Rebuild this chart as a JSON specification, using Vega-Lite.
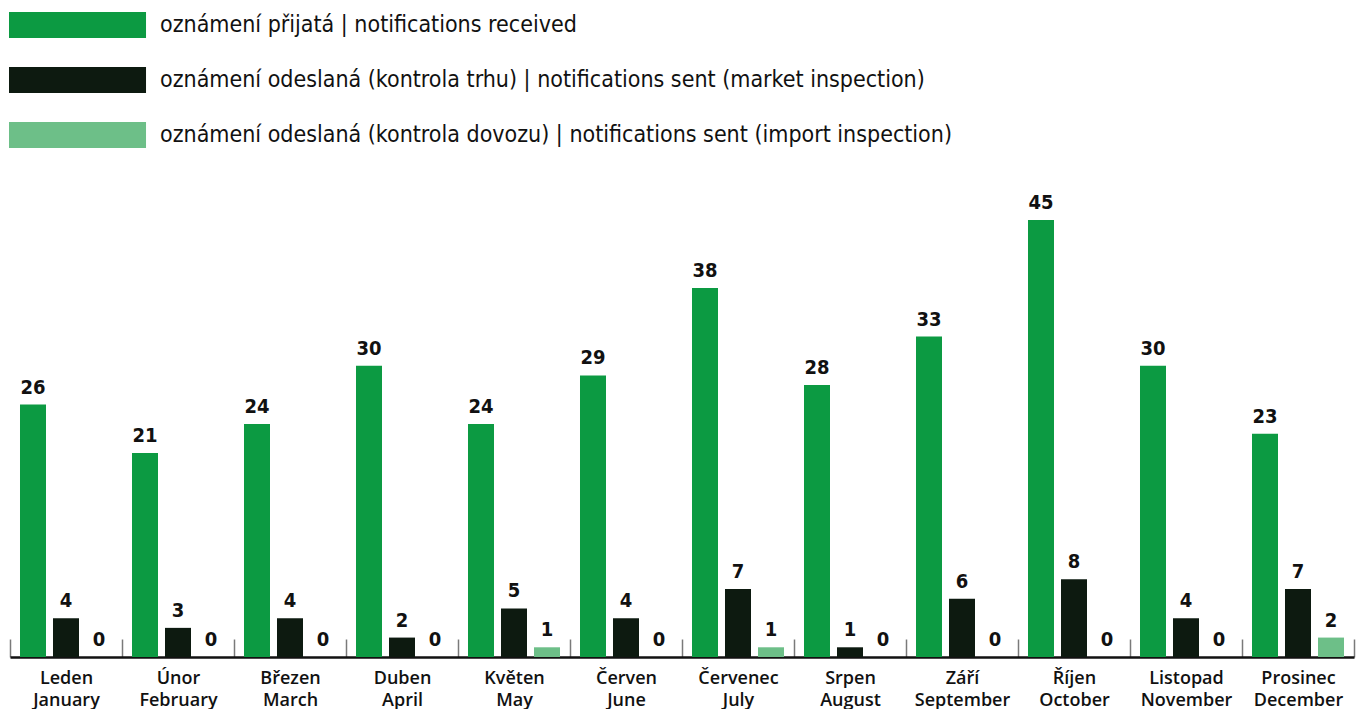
{
  "$schema": "https://vega.github.io/schema/vega-lite/v6.json",
  "width": 1344,
  "height": 437,
  "autosize": {"type": "none"},
  "padding": {"left": 10, "top": 220, "right": 2, "bottom": 52},
  "config": {"view": {"stroke": null}, "font": "Roboto"},
  "data": {
    "values": [
      {"month": "Leden|January", "series": "oznámení přijatá | notifications received", "value": 26},
      {"month": "Leden|January", "series": "oznámení odeslaná (kontrola trhu) | notifications sent (market inspection)", "value": 4},
      {"month": "Leden|January", "series": "oznámení odeslaná (kontrola dovozu) | notifications sent (import inspection)", "value": 0},
      {"month": "Únor|February", "series": "oznámení přijatá | notifications received", "value": 21},
      {"month": "Únor|February", "series": "oznámení odeslaná (kontrola trhu) | notifications sent (market inspection)", "value": 3},
      {"month": "Únor|February", "series": "oznámení odeslaná (kontrola dovozu) | notifications sent (import inspection)", "value": 0},
      {"month": "Březen|March", "series": "oznámení přijatá | notifications received", "value": 24},
      {"month": "Březen|March", "series": "oznámení odeslaná (kontrola trhu) | notifications sent (market inspection)", "value": 4},
      {"month": "Březen|March", "series": "oznámení odeslaná (kontrola dovozu) | notifications sent (import inspection)", "value": 0},
      {"month": "Duben|April", "series": "oznámení přijatá | notifications received", "value": 30},
      {"month": "Duben|April", "series": "oznámení odeslaná (kontrola trhu) | notifications sent (market inspection)", "value": 2},
      {"month": "Duben|April", "series": "oznámení odeslaná (kontrola dovozu) | notifications sent (import inspection)", "value": 0},
      {"month": "Květen|May", "series": "oznámení přijatá | notifications received", "value": 24},
      {"month": "Květen|May", "series": "oznámení odeslaná (kontrola trhu) | notifications sent (market inspection)", "value": 5},
      {"month": "Květen|May", "series": "oznámení odeslaná (kontrola dovozu) | notifications sent (import inspection)", "value": 1},
      {"month": "Červen|June", "series": "oznámení přijatá | notifications received", "value": 29},
      {"month": "Červen|June", "series": "oznámení odeslaná (kontrola trhu) | notifications sent (market inspection)", "value": 4},
      {"month": "Červen|June", "series": "oznámení odeslaná (kontrola dovozu) | notifications sent (import inspection)", "value": 0},
      {"month": "Červenec|July", "series": "oznámení přijatá | notifications received", "value": 38},
      {"month": "Červenec|July", "series": "oznámení odeslaná (kontrola trhu) | notifications sent (market inspection)", "value": 7},
      {"month": "Červenec|July", "series": "oznámení odeslaná (kontrola dovozu) | notifications sent (import inspection)", "value": 1},
      {"month": "Srpen|August", "series": "oznámení přijatá | notifications received", "value": 28},
      {"month": "Srpen|August", "series": "oznámení odeslaná (kontrola trhu) | notifications sent (market inspection)", "value": 1},
      {"month": "Srpen|August", "series": "oznámení odeslaná (kontrola dovozu) | notifications sent (import inspection)", "value": 0},
      {"month": "Září|September", "series": "oznámení přijatá | notifications received", "value": 33},
      {"month": "Září|September", "series": "oznámení odeslaná (kontrola trhu) | notifications sent (market inspection)", "value": 6},
      {"month": "Září|September", "series": "oznámení odeslaná (kontrola dovozu) | notifications sent (import inspection)", "value": 0},
      {"month": "Říjen|October", "series": "oznámení přijatá | notifications received", "value": 45},
      {"month": "Říjen|October", "series": "oznámení odeslaná (kontrola trhu) | notifications sent (market inspection)", "value": 8},
      {"month": "Říjen|October", "series": "oznámení odeslaná (kontrola dovozu) | notifications sent (import inspection)", "value": 0},
      {"month": "Listopad|November", "series": "oznámení přijatá | notifications received", "value": 30},
      {"month": "Listopad|November", "series": "oznámení odeslaná (kontrola trhu) | notifications sent (market inspection)", "value": 4},
      {"month": "Listopad|November", "series": "oznámení odeslaná (kontrola dovozu) | notifications sent (import inspection)", "value": 0},
      {"month": "Prosinec|December", "series": "oznámení přijatá | notifications received", "value": 23},
      {"month": "Prosinec|December", "series": "oznámení odeslaná (kontrola trhu) | notifications sent (market inspection)", "value": 7},
      {"month": "Prosinec|December", "series": "oznámení odeslaná (kontrola dovozu) | notifications sent (import inspection)", "value": 2}
    ]
  },
  "encoding": {
    "x": {
      "field": "month",
      "type": "nominal",
      "sort": null,
      "scale": {"paddingInner": 0, "paddingOuter": 0},
      "axis": {
        "title": null,
        "labelExpr": "isValid(datum.value) ? split(datum.value, '|') : ''",
        "labelAngle": 0,
        "labelFont": "Open Sans",
        "labelFontSize": 18,
        "labelFontWeight": 600,
        "labelColor": "#111111",
        "labelLineHeight": 22,
        "labelPadding": 30,
        "domainColor": "#111111",
        "domainWidth": 2.5,
        "tickBand": "extent",
        "tickColor": "#7a7a7a",
        "tickWidth": 1.5,
        "tickSize": -18
      }
    },
    "xOffset": {
      "field": "series",
      "type": "nominal",
      "sort": [
        "oznámení přijatá | notifications received",
        "oznámení odeslaná (kontrola trhu) | notifications sent (market inspection)",
        "oznámení odeslaná (kontrola dovozu) | notifications sent (import inspection)"
      ],
      "scale": {"paddingInner": 0.212, "paddingOuter": 0.303}
    },
    "y": {
      "field": "value",
      "type": "quantitative",
      "scale": {"domain": [0, 45], "nice": false, "zero": true},
      "axis": null
    }
  },
  "layer": [
    {
      "mark": {"type": "bar"},
      "encoding": {
        "color": {
          "field": "series",
          "type": "nominal",
          "scale": {
            "domain": [
              "oznámení přijatá | notifications received",
              "oznámení odeslaná (kontrola trhu) | notifications sent (market inspection)",
              "oznámení odeslaná (kontrola dovozu) | notifications sent (import inspection)"
            ],
            "range": ["#0c9a42", "#0d1a10", "#6dbf88"]
          },
          "legend": {
            "orient": "none",
            "legendX": -1,
            "legendY": -208,
            "title": null,
            "direction": "vertical",
            "symbolType": "M-1,-1H9.54V1H-1Z",
            "symbolSize": 676,
            "symbolStrokeWidth": 0,
            "symbolOpacity": 1,
            "labelFont": "Liberation Sans Narrow, DejaVu Sans Condensed, sans-serif",
            "labelFontSize": 23,
            "labelFontWeight": 500,
            "labelColor": "#111111",
            "labelOffset": 125,
            "labelLimit": 0,
            "rowPadding": 29
          }
        }
      }
    },
    {
      "mark": {
        "type": "text",
        "baseline": "alphabetic",
        "dy": -11,
        "font": "Liberation Sans Narrow, DejaVu Sans Condensed, sans-serif",
        "fontSize": 20,
        "fontWeight": "bold",
        "color": "#111111"
      },
      "encoding": {"text": {"field": "value", "type": "quantitative"}}
    }
  ]
}
